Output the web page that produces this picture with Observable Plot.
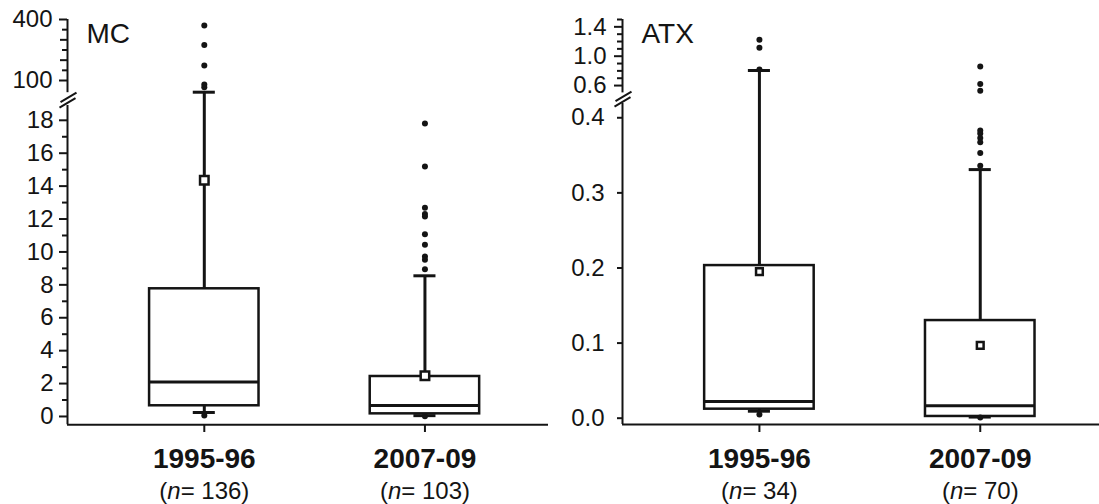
<!DOCTYPE html>
<html>
<head>
<meta charset="utf-8">
<script src="https://cdn.jsdelivr.net/npm/d3@7"></script>
<script src="https://cdn.jsdelivr.net/npm/@observablehq/plot@0.6"></script>
<style>
  html, body { margin: 0; padding: 0; background: #fff; }
  #wrap { display: flex; flex-direction: row; width: 1099px; height: 504px; }
  svg { display: block; }
</style>
</head>
<body>
<div id="wrap"></div>
<script>
// ---------- data ----------
const periods = ["1995-96", "2007-09"];

// MC (microcystin)
const mcN       = [136, 103];
const mcQ1      = [0.65, 0.16];
const mcMedian  = [2.1, 0.67];
const mcQ3      = [7.76, 2.43];
const mcMean    = [14.35, 2.47];
const mcLow     = [0.24, 0.05];
const mcHigh    = [42.5, 8.55];
const mcOut9596 = [370, 275, 174, 80, 67, 0.06];
const mcOut0709 = [17.8, 15.2, 12.69, 12.3, 12.16, 11.08, 10.44, 9.73, 9.52, 8.95, 0.01];

// ATX (anatoxin)
const atxN       = [34, 70];
const atxQ1      = [0.012, 0.0023];
const atxMedian  = [0.0222, 0.0165];
const atxQ3      = [0.2032, 0.130];
const atxMean    = [0.195, 0.0968];
const atxLow     = [0.0093, 0.0015];
const atxHigh    = [0.805, 0.331];
const atxOut9596 = [1.223, 1.114, 0.82, 0.005];
const atxOut0709 = [0.86, 0.62, 0.53, 0.383, 0.379, 0.373, 0.3675, 0.353, 0.336, 0.0008];

// axis ticks
const mcLowerMajor  = [0, 2, 4, 6, 8, 10, 12, 14, 16, 18];
const mcLowerMinor  = [1, 3, 5, 7, 9, 11, 13, 15, 17];
const mcUpperMajor  = [100, 400];
const mcUpperMid    = [200, 300];
const mcUpperMinor  = [150, 250, 350];
const atxLowerMajor = [0, 0.1, 0.2, 0.3, 0.4];
const atxUpperMajor = [0.6, 1.0, 1.4];
const atxUpperMinor = [0.7, 0.8, 0.9, 1.1, 1.2, 1.3, 1.5];

// ---------- helpers ----------
const INK = "#141414";
const FONT = "'Liberation Sans', Arial, Helvetica, sans-serif";

const breakSymbol = {
  draw(ctx) {
    ctx.moveTo(-7, 3); ctx.lineTo(9, -6.5);
    ctx.moveTo(-8, 8.5); ctx.lineTo(8, -1);
  }
};

function rows(n, q1, med, q3, mean, lo, hi) {
  return periods.map((p, i) => ({
    period: p, pos: i + 1, n: n[i], q1: q1[i], median: med[i], q3: q3[i],
    mean: mean[i], lo: lo[i], hi: hi[i]
  }));
}
function outRows(lists) {
  return lists.flatMap((vals, i) => vals.map(v => ({pos: i + 1, value: v})));
}

function panel(cfg) {
  const R = cfg.rows;
  const boxHalf = 0.248, capHalf = 0.05;
  const [yMin, lowerTop, upperBottom, upperTop] = cfg.yDomain;
  const xMin = cfg.xDomain[0];
  const fmt = cfg.fmt;
  const svg = Plot.plot({
    width: cfg.width, height: 504,
    marginLeft: cfg.marginLeft, marginRight: cfg.marginRight,
    marginTop: 19, marginBottom: 80,
    style: {fontFamily: FONT, background: "#fff", color: INK, overflow: "visible"},
    x: {type: "linear", domain: cfg.xDomain, axis: null},
    y: {type: "linear", domain: cfg.yDomain, range: cfg.yRange, axis: null},
    marks: [
      // axis lines (broken)
      Plot.ruleX([{x: xMin, y1: yMin, y2: lowerTop}, {x: xMin, y1: upperBottom, y2: upperTop}],
        {x: "x", y1: "y1", y2: "y2", stroke: INK, strokeWidth: 2}),
      Plot.ruleY([yMin], {stroke: INK, strokeWidth: 2}),
      Plot.dot([{x: xMin, y: (lowerTop + upperBottom) / 2}],
        {x: "x", y: "y", symbol: breakSymbol, r: 4, fill: "none", stroke: INK, strokeWidth: 2}),
      // y ticks
      ...cfg.axes.map(a => Plot.axisY(a.ticks, {
        anchor: "left", tickSize: a.size, tickPadding: a.pad ?? 0,
        tickFormat: a.label ? fmt : () => "", fontSize: 24, strokeWidth: 2, stroke: INK, fill: INK
      })),
      // x ticks
      Plot.axisX([1, 2], {anchor: "bottom", tickSize: 8, tickFormat: () => "", strokeWidth: 2, stroke: INK}),
      // whiskers
      Plot.ruleX(R, {x: "pos", y1: "q3", y2: "hi", stroke: INK, strokeWidth: 3}),
      Plot.ruleX(R, {x: "pos", y1: "lo", y2: "q1", stroke: INK, strokeWidth: 3}),
      Plot.ruleY(R, {y: "hi", x1: d => d.pos - capHalf, x2: d => d.pos + capHalf, stroke: INK, strokeWidth: 3}),
      Plot.ruleY(R, {y: "lo", x1: d => d.pos - capHalf, x2: d => d.pos + capHalf, stroke: INK, strokeWidth: 3}),
      // boxes
      Plot.rect(R, {x1: d => d.pos - boxHalf, x2: d => d.pos + boxHalf, y1: "q1", y2: "q3",
        fill: "#fff", stroke: INK, strokeWidth: 2.5}),
      Plot.ruleY(R, {y: "median", x1: d => d.pos - boxHalf, x2: d => d.pos + boxHalf, stroke: INK, strokeWidth: 3}),
      // outliers
      Plot.dot(cfg.outliers, {x: "pos", y: "value", r: 3, fill: INK, stroke: "none"}),
      // means
      Plot.dot(R, {x: "pos", y: "mean", symbol: "square", r: cfg.meanR, fill: "#fff", stroke: INK, strokeWidth: 2.5}),
      // labels
      Plot.text([cfg.title], {frameAnchor: "top-left", textAnchor: "start", lineAnchor: "bottom",
        dx: 19, dy: 23, fontSize: 28, fill: INK}),
      Plot.text(R, {x: "pos", text: "period", frameAnchor: "bottom", lineAnchor: "bottom",
        dy: 43, fontSize: 28, fontWeight: "bold", fill: INK}),
      Plot.text(R, {x: "pos", text: d => `(n= ${d.n})`, frameAnchor: "bottom", lineAnchor: "bottom",
        dy: 74, fontSize: 24, fill: INK, className: "nlab"})
    ]
  });
  // italic "n" inside the sample-size labels
  d3.select(svg).selectAll(".nlab text").each(function () {
    const t = this.textContent;
    const rest = t.slice(2);
    const sel = d3.select(this);
    sel.text(null);
    sel.append("tspan").text("(");
    sel.append("tspan").attr("font-style", "italic").text("n");
    sel.append("tspan").text(rest);
  });
  return svg;
}

const wrap = document.getElementById("wrap");

wrap.appendChild(panel({
  title: "MC",
  width: 550, marginLeft: 67, marginRight: 2,
  xDomain: [0.38, 2.56],
  yDomain: [-0.5, 18.9, 40, 400],
  yRange: [424.2, 105, 92.2, 19],
  fmt: d3.format("d"),
  meanR: 4.8,
  rows: rows(mcN, mcQ1, mcMedian, mcQ3, mcMean, mcLow, mcHigh),
  outliers: outRows([mcOut9596, mcOut0709]),
  axes: [
    {ticks: mcLowerMajor, size: 8, pad: 6, label: true},
    {ticks: mcLowerMinor, size: 5},
    {ticks: mcUpperMajor, size: 8, pad: 7, label: true},
    {ticks: mcUpperMid, size: 7},
    {ticks: mcUpperMinor, size: 5}
  ]
}));

wrap.appendChild(panel({
  title: "ATX",
  width: 549, marginLeft: 72, marginRight: 0,
  xDomain: [0.38, 2.54],
  yDomain: [-0.0084, 0.419, 0.5, 1.5],
  yRange: [424, 103, 92.4, 19],
  fmt: d3.format(".1f"),
  meanR: 3.8,
  rows: rows(atxN, atxQ1, atxMedian, atxQ3, atxMean, atxLow, atxHigh),
  outliers: outRows([atxOut9596, atxOut0709]),
  axes: [
    {ticks: atxLowerMajor, size: 5, pad: 13, label: true},
    {ticks: atxUpperMajor, size: 8, pad: 8, label: true},
    {ticks: atxUpperMinor, size: 5}
  ]
}));
</script>
</body>
</html>
